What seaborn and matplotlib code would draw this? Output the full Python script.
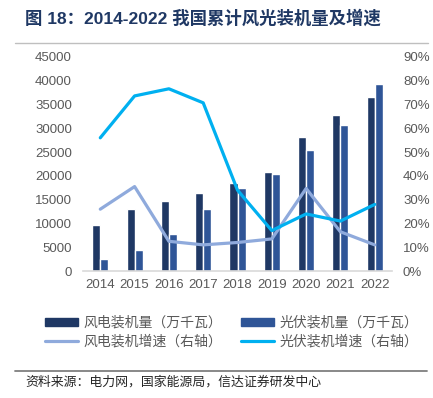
import seaborn as sns
import numpy as np
import matplotlib.pyplot as plt
import pandas as pd
from matplotlib.ticker import PercentFormatter
from matplotlib.lines import Line2D
from matplotlib.patches import Patch

sns.set_style("white")
plt.rcParams['font.family'] = ['Liberation Sans', 'Noto Sans CJK SC', 'DejaVu Sans']

# data
years = ['2014', '2015', '2016', '2017', '2018', '2019', '2020', '2021', '2022']
wind_cap = [9657, 13075, 14747, 16367, 18426, 20915, 28153, 32848, 36544]
solar_cap = [2486, 4318, 7742, 13025, 17446, 20468, 25343, 30656, 39261]
wind_growth = [26.0, 35.5, 12.5, 11.0, 12.0, 13.5, 34.7, 16.5, 11.0]
solar_growth = [56.0, 73.6, 76.6, 70.7, 34.0, 17.0, 24.0, 21.0, 28.0]

labels = ['风电装机量（万千瓦）', '光伏装机量（万千瓦）', '风电装机增速（右轴）', '光伏装机增速（右轴）']
c_wind, c_solar = '#1f3864', '#2f5597'
c_wind_l, c_solar_l = '#8faadc', '#00b0f0'
grey = '#595959'

df = pd.DataFrame({
    'year': years * 2,
    'series': [labels[0]] * len(years) + [labels[1]] * len(years),
    'value': wind_cap + solar_cap,
})

fig = plt.figure(figsize=(4.33, 3.98), dpi=100)
ax = fig.add_axes([0.192, 0.319, 0.713, 0.538])

sns.barplot(data=df, x='year', y='value', hue='series', palette=[c_wind, c_solar],
            width=0.47, gap=0, ax=ax, legend=False, saturation=1)
ax.set_ylim(0, 45000)
ax.set_yticks(np.arange(0, 45001, 5000))
ax.set_xlim(-0.5, len(years) - 0.5)
ax.set_xlabel('')
ax.set_ylabel('')

ax2 = ax.twinx()
xs = np.arange(len(years))
sns.lineplot(x=xs, y=wind_growth, ax=ax2, color=c_wind_l, linewidth=2.3)
sns.lineplot(x=xs, y=solar_growth, ax=ax2, color=c_solar_l, linewidth=2.3)
ax2.set_ylim(0, 90)
ax2.set_yticks(np.arange(0, 91, 10))
ax2.yaxis.set_major_formatter(PercentFormatter(xmax=100, decimals=0))

for a in (ax, ax2):
    for s in a.spines.values():
        s.set_visible(False)
    a.tick_params(length=0, labelsize=9.5, colors=grey, pad=8)
ax.spines['bottom'].set_visible(True)
ax.spines['bottom'].set_color('#d9d9d9')
ax.spines['bottom'].set_linewidth(1.2)
ax.tick_params(axis='x', pad=6)
ax2.tick_params(axis='y', pad=8)

handles = [
    Patch(color=c_wind), Line2D([], [], color=c_wind_l, lw=2.3),
    Patch(color=c_solar), Line2D([], [], color=c_solar_l, lw=2.3),
]
fig.legend(handles, [labels[0], labels[2], labels[1], labels[3]], ncol=2,
           loc='center', bbox_to_anchor=(0.535, 0.165), frameon=False,
           fontsize=10, labelcolor=grey, handlelength=2.4, handleheight=0.55,
           columnspacing=1.3, handletextpad=0.4, labelspacing=0.35)

fig.text(0.058, 0.955, '图 18：2014-2022 我国累计风光装机量及增速', fontsize=12.5,
         fontweight='bold', color='#1f3864', va='center')
fig.add_artist(Line2D([0.035, 0.988], [0.892, 0.892], color='#bfbfbf', lw=1))
fig.add_artist(Line2D([0.035, 0.986], [0.068, 0.068], color='#7f7f7f', lw=1.3))
fig.text(0.058, 0.04, '资料来源：电力网，国家能源局，信达证券研发中心', fontsize=9.3,
         color='#262626', style='italic', va='center')

fig.savefig('out.png', dpi=100)
